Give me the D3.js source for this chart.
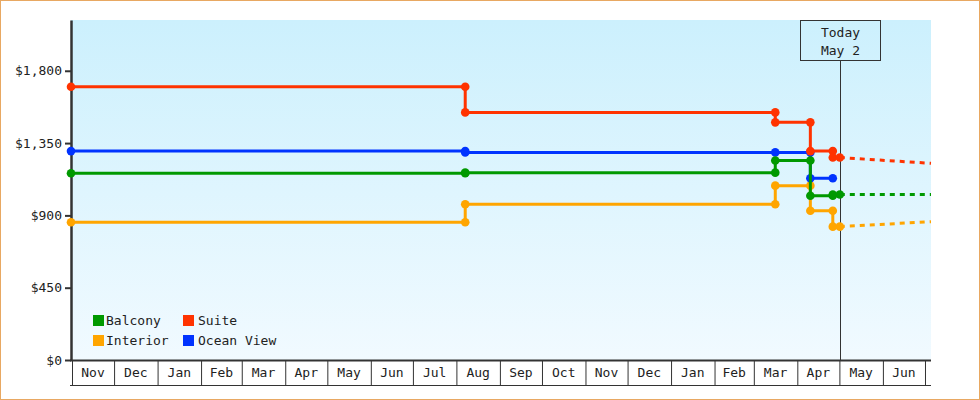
<!DOCTYPE html>
<html>
<head>
<meta charset="utf-8">
<script src="https://cdn.jsdelivr.net/npm/d3@7"></script>
<style>
  body { margin: 0; background: #fff; }
  svg text { font-family: "DejaVu Sans Mono", monospace; font-size: 13px; fill: #222; }
</style>
</head>
<body>
<svg id="chart" width="980" height="400"></svg>
<script>
// price change dates (each series steps to a new price on these days)
const changeDates = ["2023-11-01", "2024-08-08", "2025-03-17", "2025-04-11", "2025-04-27", "2025-05-02"];
const balcony = [1162, 1166, 1242, 1022, 1030, 1030];
const interior = [857, 969, 1085, 929, 830, 830];
const suite = [1701, 1541, 1479, 1300, 1260, 1260];
const oceanView = [1300, 1292, 1292, 1131, 1131, null];

// forecast value at the end of the axis (dashed part)
const forecastEnd = [1030, 861, 1224, null];

const seriesNames = ["Balcony", "Interior", "Suite", "Ocean View"];
const seriesColors = ["#009900", "#ffa500", "#ff3300", "#0033ff"];
const yTicks = [0, 450, 900, 1350, 1800];
const todayDate = "2025-05-02";
const todayLabel = ["Today", "May 2"];

const parse = d3.timeParse("%Y-%m-%d");
const startDate = parse("2023-11-01");
const endDate = parse("2025-07-06");

const svg = d3.select("#chart");

const plotLeft = 71, plotRight = 931, plotTop = 20, plotBottom = 360;

const x = d3.scaleTime().domain([startDate, endDate]).range([plotLeft, plotRight]);
const y = d3.scaleLinear().domain([0, 2116]).range([plotBottom, plotTop]);

// 背景
const defs = svg.append("defs");
const grad = defs.append("linearGradient")
  .attr("id", "bg").attr("x1", 0).attr("y1", 0).attr("x2", 0).attr("y2", 1);
grad.append("stop").attr("offset", "0%").attr("stop-color", "#ccf0fd");
grad.append("stop").attr("offset", "100%").attr("stop-color", "#f1faff");

svg.append("rect")
  .attr("x", plotLeft).attr("y", plotTop)
  .attr("width", plotRight - plotLeft).attr("height", plotBottom - plotTop)
  .attr("fill", "url(#bg)");

// outer frame
svg.append("rect")
  .attr("x", 0.5).attr("y", 0.5).attr("width", 979).attr("height", 399)
  .attr("fill", "none").attr("stroke", "#e8a862");

// month boxes under the axis
const monthStarts = d3.timeMonth.range(startDate, endDate);
const xAxis = svg.append("g")
  .attr("transform", `translate(0,${plotBottom})`)
  .call(d3.axisBottom(x).tickValues(monthStarts).tickSize(25).tickSizeOuter(0).tickFormat(""));
xAxis.select(".domain").remove();
xAxis.selectAll(".tick line").attr("stroke", "#333").attr("transform", "translate(1,0)");

svg.append("g")
  .selectAll("text")
  .data(monthStarts.filter((d) => d3.timeMonth.offset(d, 1) <= endDate))
  .join("text")
  .attr("x", (d) => (x(d) + x(d3.timeMonth.offset(d, 1))) / 2 + 1)
  .attr("y", 372.5)
  .attr("dy", "0.35em")
  .attr("text-anchor", "middle")
  .text(d3.timeFormat("%b"));

svg.append("line")
  .attr("x1", plotLeft - 1).attr("x2", plotRight)
  .attr("y1", 385.5).attr("y2", 385.5)
  .attr("stroke", "#333");

svg.append("line")
  .attr("x1", plotLeft - 1).attr("x2", plotRight)
  .attr("y1", plotBottom + 0.5).attr("y2", plotBottom + 0.5)
  .attr("stroke", "#333").attr("stroke-width", 2);

// y axis
const yAxis = svg.append("g")
  .attr("transform", `translate(${plotLeft},0)`)
  .call(d3.axisLeft(y).tickValues(yTicks).tickSize(6).tickSizeOuter(0).tickPadding(3).tickFormat(d3.format("$,")));
yAxis.select(".domain").attr("stroke", "#333").attr("stroke-width", 2.5);
yAxis.selectAll(".tick line").attr("stroke", "#333").attr("stroke-width", 2);
yAxis.selectAll(".tick text").attr("fill", "#222").style("font-size", "13px")
  .style("font-family", '"DejaVu Sans Mono", monospace');

// today marker
const tx = Math.round(x(parse(todayDate))) + 0.5;
svg.append("line")
  .attr("x1", tx).attr("x2", tx).attr("y1", 60).attr("y2", plotBottom)
  .attr("stroke", "#333");
svg.append("rect")
  .attr("x", tx - 40).attr("y", 20.5).attr("width", 80).attr("height", 40)
  .attr("fill", "none").attr("stroke", "#333");
svg.append("g")
  .selectAll("text")
  .data(todayLabel)
  .join("text")
  .attr("x", tx)
  .attr("y", (d, i) => 37 + i * 17.5)
  .attr("text-anchor", "middle")
  .text((d) => d);

// series
const allValues = [balcony, interior, suite, oceanView];
const dates = changeDates.map(parse);
const drawOrder = [1, 3, 0, 2];

const line = d3.line()
  .x((d) => x(d.date))
  .y((d) => y(d.value))
  .curve(d3.curveStepAfter);

drawOrder.forEach((si) => {
  const color = seriesColors[si];
  const pts = [];
  allValues[si].forEach((v, i) => {
    if (v !== null) pts.push({ date: dates[i], value: v, prev: i > 0 ? allValues[si][i - 1] : null });
  });

  const g = svg.append("g");

  if (forecastEnd[si] !== null) {
    const last = pts[pts.length - 1];
    g.append("path")
      .datum([last, { date: endDate, value: forecastEnd[si] }])
      .attr("d", d3.line().x((d) => x(d.date)).y((d) => y(d.value)))
      .attr("fill", "none")
      .attr("stroke", color)
      .attr("stroke-width", 3)
      .attr("stroke-dasharray", "5,5");
  }

  g.append("path")
    .datum(pts)
    .attr("d", line)
    .attr("fill", "none")
    .attr("stroke", color)
    .attr("stroke-width", 3);

  const markers = [];
  pts.forEach((p) => {
    if (p.prev !== null && p.prev !== p.value) markers.push({ date: p.date, value: p.prev });
    markers.push(p);
  });

  g.selectAll("circle")
    .data(markers)
    .join("circle")
    .attr("cx", (d) => x(d.date))
    .attr("cy", (d) => y(d.value))
    .attr("r", 4.3)
    .attr("fill", color);
});

// legend
const legend = svg.append("g");
seriesNames.forEach((name, i) => {
  const col = Math.floor(i / 2), row = i % 2;
  const lx = 93 + col * 90, ly = 315 + row * 20;
  legend.append("rect")
    .attr("x", lx).attr("y", ly).attr("width", 11).attr("height", 11)
    .attr("fill", seriesColors[i]);
  legend.append("text")
    .attr("x", lx + (col === 0 ? 13 : 15)).attr("y", ly + 10)
    .text(name);
});
</script>
</body>
</html>
